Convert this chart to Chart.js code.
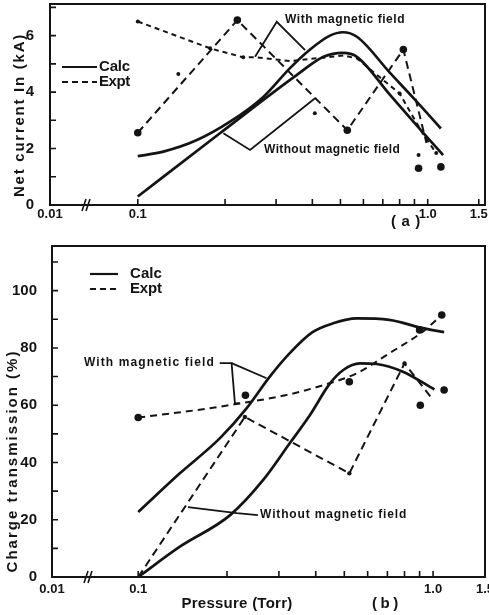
<!DOCTYPE html>
<html><head><meta charset="utf-8">
<script src="https://cdn.jsdelivr.net/npm/chart.js@4.4.1/dist/chart.umd.min.js"></script>
<style>
html,body{margin:0;padding:0;background:#fff;}
#wrap{position:relative;width:489px;height:615px;overflow:hidden;background:#fff;}
canvas{position:absolute;left:0;display:block;}
</style></head><body>
<div id="wrap">
<canvas id="ca" width="489" height="235" style="top:0"></canvas>
<canvas id="cb" width="489" height="380" style="top:235px"></canvas>
</div>
<script>
// ---------- Panel (a): net current In (kA) vs pressure (Torr) ----------
const pA_calcWith    = [0.1, 0.1225, 0.16, 0.208, 0.271, 0.335, 0.392, 0.46, 0.51, 0.57, 0.74, 0.9, 1.11];
const iA_calcWith    = [1.73, 1.89, 2.3, 2.95, 3.83, 4.85, 5.5, 6.0, 6.12, 5.96, 4.69, 3.75, 2.71];
const pA_calcWithout = [0.1, 0.192, 0.353, 0.437, 0.51, 0.57, 0.74, 0.96, 1.13];
const iA_calcWithout = [0.3, 2.54, 4.6, 5.25, 5.39, 5.25, 3.91, 2.58, 1.77];
const pA_exptWith    = [0.1, 0.1775, 0.231, 0.257, 0.335, 0.437, 0.512, 0.57, 0.8, 0.96, 1.07];
const iA_exptWith    = [6.5, 5.55, 5.23, 5.23, 5.1, 5.22, 5.3, 5.19, 3.95, 2.54, 1.83];
const pA_exptWithout = [0.1, 0.2205, 0.528, 0.824, 0.99];
const iA_exptWithout = [2.56, 6.55, 2.65, 5.51, 2.2];
const pA_bigDots     = [0.1, 0.2205, 0.528, 0.824, 0.93, 1.11];
const iA_bigDots     = [2.56, 6.55, 2.65, 5.51, 1.3, 1.35];
const pA_smallDots   = [0.1, 0.138, 0.1775, 0.231, 0.408, 0.8, 0.93, 1.07];
const iA_smallDots   = [6.5, 4.64, 5.55, 5.23, 3.25, 3.95, 1.77, 1.84];
const yA_labelTicks  = [0, 2, 4, 6];
const yA_minorTicks  = [0, 1, 2, 3, 4, 5, 6, 7];

// ---------- Panel (b): charge transmission (%) vs pressure (Torr) ----------
const pB_calcWith    = [0.1, 0.1384, 0.189, 0.233, 0.279, 0.326, 0.39, 0.458, 0.55, 0.71, 0.923, 1.09];
const tB_calcWith    = [22.7, 36.2, 48.4, 58.9, 69.9, 78.1, 85.5, 88.6, 90.3, 89.8, 86.9, 85.5];
const pB_calcWithout = [0.1, 0.138, 0.205, 0.265, 0.326, 0.382, 0.447, 0.496, 0.565, 0.643, 0.79, 1.01];
const tB_calcWithout = [0, 10.5, 21.6, 33.8, 46.6, 56.5, 67.6, 72.3, 74.6, 74.4, 71.7, 65.5];
const pB_exptWith    = [0.1, 0.158, 0.215, 0.326, 0.424, 0.55, 0.71, 0.923, 1.07];
const tB_exptWith    = [55.7, 58.3, 60.4, 63.8, 67.0, 71.1, 78.1, 85.7, 91.5];
const pB_exptWithout = [0.1, 0.23, 0.52, 0.8, 1.0];
const tB_exptWithout = [0, 55.9, 36.2, 74.6, 61.8];
const pB_bigDots     = [0.1, 0.231, 0.52, 0.9, 1.07, 0.905, 1.09];
const tB_bigDots     = [55.7, 63.5, 68.2, 86.3, 91.5, 60, 65.3];
const pB_smallDots   = [0.23, 0.52, 0.8];
const tB_smallDots   = [55.9, 36.2, 74.6];
const yB_labelTicks  = [0, 20, 40, 60, 80, 100];
const yB_minorTicks  = [0, 10, 20, 30, 40, 50, 60, 70, 80, 90, 100, 110];

// ---------- shared x axis (broken log axis) ----------
const xTickLabels = ["0.01", "0.1", "1.0", "1.5"];
const xTickValues = [0.1, 1.0, 1.5];          // first label sits on the axis break at the left end
const xMinorTicks = [0.1, 0.2, 0.3, 0.4, 0.5, 0.6, 0.7, 0.8, 0.9, 1.0, 1.5];

const legendLabels = ["Calc", "Expt"];
const withLabel = "With magnetic field";
const withoutLabel = "Without magnetic field";

const INK = '#141414';
const FONT = "'Liberation Sans', Arial, sans-serif";

function xy(ps, vs) { return ps.map((p, i) => ({ x: p, y: vs[i] })); }

function fitText(ctx, text, x, y, width, align) {
  ctx.textAlign = align || 'left';
  if ('letterSpacing' in ctx) {
    ctx.letterSpacing = '0px';
    const w = ctx.measureText(text).width;
    let sp = (width - w) / Math.max(1, text.length);
    sp = Math.max(-1, Math.min(4, sp));
    ctx.letterSpacing = sp.toFixed(2) + 'px';
  }
  ctx.fillText(text, x, y);
  if ('letterSpacing' in ctx) ctx.letterSpacing = '0px';
}

const decoPlugin = {
  id: 'deco',
  afterDraw(chart, args, o) {
    const ctx = chart.ctx, a = chart.chartArea, xs = chart.scales.x, ys = chart.scales.y;
    const P = (pt) => [xs.getPixelForValue(pt[0]), ys.getPixelForValue(pt[1])];
    ctx.save();
    ctx.strokeStyle = INK; ctx.fillStyle = INK;
    // frame top & right
    ctx.lineWidth = 2;
    ctx.beginPath(); ctx.moveTo(a.left, a.top); ctx.lineTo(a.right, a.top); ctx.lineTo(a.right, a.bottom); ctx.stroke();
    // inward tick marks
    ctx.lineWidth = 1.6;
    ctx.beginPath();
    o.xMinor.forEach(v => { const x = xs.getPixelForValue(v); ctx.moveTo(x, a.bottom); ctx.lineTo(x, a.bottom - 6); });
    o.yMinor.forEach(v => { const y = ys.getPixelForValue(v); ctx.moveTo(a.left, y); ctx.lineTo(a.left + 6, y); });
    ctx.stroke();
    // axis break marks
    const bx = a.left + 34;
    ctx.lineWidth = 1.6;
    ctx.beginPath();
    ctx.moveTo(bx - 2, a.bottom + 6); ctx.lineTo(bx + 2, a.bottom - 6);
    ctx.moveTo(bx + 2, a.bottom + 6); ctx.lineTo(bx + 6, a.bottom - 6);
    ctx.stroke();
    // legend
    const L = o.legend;
    ctx.lineWidth = 2.2;
    ctx.beginPath(); ctx.moveTo(a.left + L.x0, a.top + L.y0); ctx.lineTo(a.left + L.x1, a.top + L.y0); ctx.stroke();
    ctx.setLineDash([6, 4]);
    ctx.beginPath(); ctx.moveTo(a.left + L.x0, a.top + L.y1); ctx.lineTo(a.left + L.x1, a.top + L.y1); ctx.stroke();
    ctx.setLineDash([]);
    ctx.font = 'bold 15px ' + FONT; ctx.textBaseline = 'middle';
    fitText(ctx, legendLabels[0], a.left + L.tx, a.top + L.y0, L.tw, 'left');
    fitText(ctx, legendLabels[1], a.left + L.tx, a.top + L.y1, L.tw, 'left');
    // leader lines
    ctx.lineWidth = 1.8;
    o.leaders.forEach(path => {
      ctx.beginPath();
      path.forEach((pt, i) => { const q = P(pt); if (i) ctx.lineTo(q[0], q[1]); else ctx.moveTo(q[0], q[1]); });
      ctx.stroke();
    });
    // annotation texts
    ctx.font = 'bold 12px ' + FONT; ctx.textBaseline = 'middle';
    o.notes.forEach(n => { const q = P(n.at); fitText(ctx, n.text, q[0], q[1], n.w, n.align); });
    // y title
    ctx.font = 'bold 15px ' + FONT; ctx.textBaseline = 'middle';
    ctx.translate(o.yTitle.x, o.yTitle.y); ctx.rotate(-Math.PI / 2);
    fitText(ctx, o.yTitle.text, 0, 0, o.yTitle.w, 'center');
    ctx.setTransform(1, 0, 0, 1, 0, 0);
    // bottom texts
    ctx.font = 'bold 15px ' + FONT; ctx.textBaseline = 'middle';
    o.bottom.forEach(t => fitText(ctx, t.text, t.x, t.y, t.w, 'center'));
    ctx.restore();
  }
};

function makeChart(id, cfg) {
  const lineDs = (ps, vs, solid, dash, smooth) => ({
    data: xy(ps, vs), showLine: true, borderColor: INK, backgroundColor: INK,
    borderWidth: solid ? 2.7 : 2, borderDash: solid ? [] : dash, pointRadius: 0,
    cubicInterpolationMode: smooth ? 'monotone' : 'default', tension: 0, fill: false
  });
  const dotDs = (ps, vs, r) => ({
    data: xy(ps, vs), showLine: false, pointRadius: r, pointBackgroundColor: INK,
    pointBorderColor: INK, pointBorderWidth: 0
  });
  return new Chart(document.getElementById(id), {
    type: 'scatter',
    data: { datasets: cfg.datasets(lineDs, dotDs) },
    options: {
      responsive: false, animation: false, events: [],
      layout: { autoPadding: false, padding: { left: 0, right: 4, top: cfg.top, bottom: 0 } },
      plugins: { legend: { display: false }, tooltip: { enabled: false }, deco: cfg.deco },
      scales: {
        x: {
          type: 'logarithmic', min: cfg.xMin, max: cfg.xMax,
          grid: { display: false }, border: { display: true, color: INK, width: 2 },
          ticks: {
            color: INK, font: { family: FONT, weight: 'bold', size: 13 }, padding: cfg.xPad,
            autoSkip: false, maxRotation: 0, minRotation: 0,
            callback: (v, i) => xTickLabels[i]
          },
          afterBuildTicks: s => { s.ticks = [s.min].concat(xTickValues).map(v => ({ value: v })); },
          afterFit: s => { s.height = cfg.xH; s.paddingLeft = 0; s.paddingRight = 0; }
        },
        y: {
          type: 'linear', min: 0, max: cfg.yMax,
          grid: { display: false }, border: { display: true, color: INK, width: 2 },
          ticks: { color: INK, font: { family: FONT, weight: 'bold', size: 15 }, padding: cfg.yPad },
          afterBuildTicks: s => { s.ticks = cfg.yLabels.map(v => ({ value: v })); },
          afterFit: s => { s.width = cfg.yW; s.paddingTop = 0; s.paddingBottom = 0; }
        }
      }
    },
    plugins: [decoPlugin]
  });
}

// Panel (a)
makeChart('ca', {
  top: 4, xMin: 0.0498, xMax: 1.576, xH: 30, xPad: -6, yW: 50, yPad: 8, yMax: 7.12, yLabels: yA_labelTicks,
  datasets: (L, D) => [
    L(pA_calcWith, iA_calcWith, true, null, true),
    L(pA_calcWithout, iA_calcWithout, true, null, true),
    L(pA_exptWith, iA_exptWith, false, [5, 4], false),
    L(pA_exptWithout, iA_exptWithout, false, [8, 5], false),
    D(pA_bigDots, iA_bigDots, 3.8),
    D(pA_smallDots, iA_smallDots, 2)
  ],
  deco: {
    xMinor: xMinorTicks, yMinor: yA_minorTicks,
    legend: { x0: 12, x1: 47, y0: 63, y1: 78, tx: 49, tw: 31 },
    leaders: [
      [[0.2538, 5.25], [0.3015, 6.49], [0.3776, 5.49]],
      [[0.1973, 2.54], [0.2439, 1.95], [0.4087, 3.78]]
    ],
    notes: [
      { text: withLabel, at: [0.322, 6.55], align: 'left', w: 120 },
      { text: withoutLabel, at: [0.2727, 1.95], align: 'left', w: 136 }
    ],
    yTitle: { text: 'Net current In (kA)', x: 20, y: 115, w: 164 },
    bottom: [{ text: '( a )', x: 406, y: 222, w: 30 }]
  }
});

// Panel (b)
makeChart('cb', {
  top: 11, xMin: 0.051, xMax: 1.5, xH: 38, xPad: -3, yW: 52, yPad: 7, yMax: 115.6, yLabels: yB_labelTicks,
  datasets: (L, D) => [
    L(pB_calcWith, tB_calcWith, true, null, true),
    L(pB_calcWithout, tB_calcWithout, true, null, true),
    L(pB_exptWith, tB_exptWith, false, [7, 5], true),
    L(pB_exptWithout, tB_exptWithout, false, [8, 5], false),
    D(pB_bigDots, tB_bigDots, 3.8),
    D(pB_smallDots, tB_smallDots, 2.2)
  ],
  deco: {
    xMinor: xMinorTicks, yMinor: yB_minorTicks,
    legend: { x0: 38, x1: 66, y0: 28, y1: 43, tx: 78, tw: 32 },
    leaders: [
      [[0.189, 74.7], [0.2073, 74.7], [0.2128, 60.6], [0.221, 60.7]],
      [[0.2073, 74.7], [0.2725, 69.4]],
      [[0.1474, 24.4], [0.216, 22.3], [0.2546, 21.6]]
    ],
    notes: [
      { text: withLabel, at: [0.182, 74.7], align: 'right', w: 131 },
      { text: withoutLabel, at: [0.259, 21.6], align: 'left', w: 147 }
    ],
    yTitle: { text: 'Charge transmission (%)', x: 13, y: 226, w: 223 },
    bottom: [
      { text: 'Pressure (Torr)', x: 237, y: 369, w: 111 },
      { text: '( b )', x: 385, y: 369, w: 26 }
    ]
  }
});
</script>
</body></html>
